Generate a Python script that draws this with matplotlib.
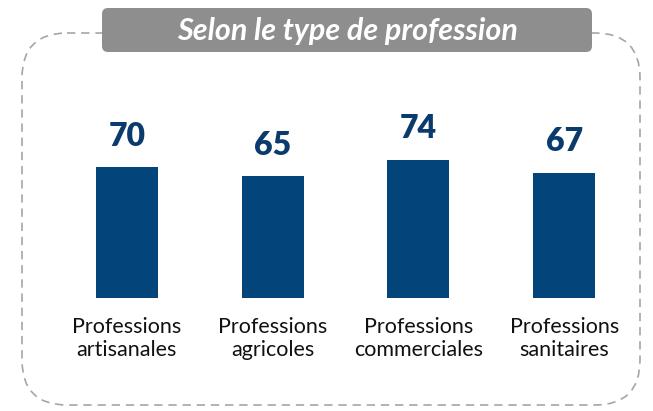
import matplotlib.pyplot as plt
from matplotlib.patches import FancyBboxPatch

categories = ["Professions\nartisanales", "Professions\nagricoles",
              "Professions\ncommerciales", "Professions\nsanitaires"]
values = [70, 65, 74, 67]
title = "Selon le type de profession"

plt.rcParams['font.family'] = ['Lato', 'DejaVu Sans']

W, H = 653, 411
fig = plt.figure(figsize=(W / 100, H / 100), dpi=100)

# background layer in pixel coords for the frame and title box
bg = fig.add_axes([0, 0, 1, 1])
bg.set_xlim(0, W)
bg.set_ylim(H, 0)
bg.axis('off')

frame = FancyBboxPatch((22 + 45, 33 + 45), 618 - 90, 372 - 90,
                       boxstyle="round,pad=45", fill=False,
                       edgecolor='#a6a6a6', linewidth=1.2,
                       linestyle=(0, (5, 3.5)))
bg.add_patch(frame)

tbox = FancyBboxPatch((102 + 6, 8 + 6), 490 - 12, 44 - 12,
                      boxstyle="round,pad=6", facecolor='#8e8e8e',
                      edgecolor='none')
bg.add_patch(tbox)
bg.text(347, 31, title, color='white', fontsize=22, fontweight='bold',
        fontstyle='italic', ha='center', va='center')

# bar chart
ax = fig.add_axes([54 / W, (H - 298) / H, 583 / W, 187.1 / H])
x = range(len(values))
bars = ax.bar(x, values, width=0.425, color='#03457a')
ax.set_xlim(-0.5, 3.5)
ax.set_ylim(0, 100)
ax.patch.set_alpha(0)
for s in ax.spines.values():
    s.set_visible(False)
ax.set_yticks([])
ax.set_xticks(list(x))
ax.set_xticklabels(categories, fontsize=15.5, color='#111111', linespacing=1.15)
ax.tick_params(axis='x', length=0, pad=14)

for xi, v in zip(x, values):
    ax.annotate(str(v), (xi, v), xytext=(0, 15.5), textcoords='offset points',
                ha='center', va='baseline', fontsize=23, fontweight='heavy',
                color='#0b3b6c')

fig.savefig("out.png", dpi=100)
